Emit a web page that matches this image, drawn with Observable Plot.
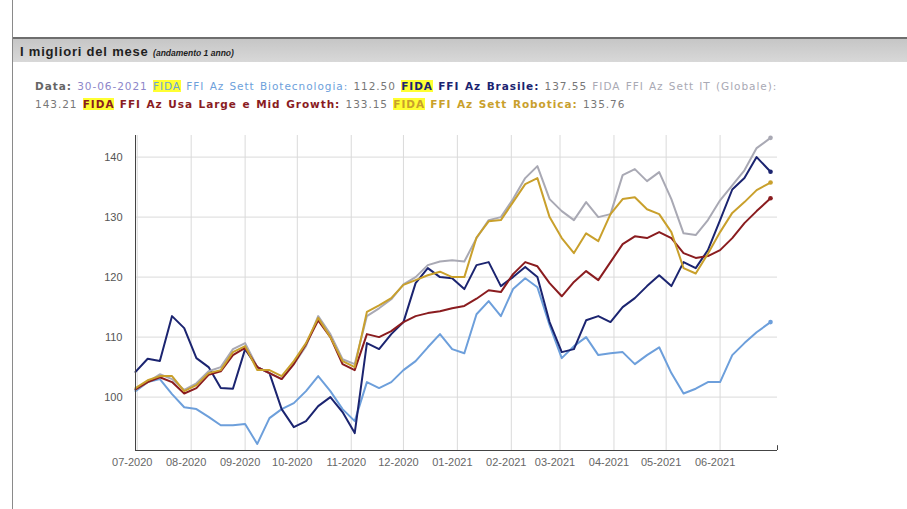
<!DOCTYPE html>
<html>
<head>
<meta charset="utf-8">
<script src="https://cdn.jsdelivr.net/npm/d3@7"></script>
<script src="https://cdn.jsdelivr.net/npm/@observablehq/plot@0.6"></script>
<style>
  html, body { margin: 0; padding: 0; background: #fff; }
  #page { position: relative; width: 907px; height: 509px; overflow: hidden; font-family: "Liberation Sans", Arial, sans-serif; }
  .vline { position: absolute; left: 12px; top: 0; width: 1px; height: 509px; background: #8a8a8a; }
  .hdr { position: absolute; left: 13px; top: 37px; right: 0; height: 25px; border-top: 2px solid #6e6e6e;
         background: linear-gradient(#c6c6c6, #d8d8d8); box-sizing: border-box; padding-left: 7px; line-height: 23px; color: #1e1e1e; }
  .hdr b { font-size: 13px; letter-spacing: 0.8px; }
  .hdr i { font-size: 8.5px; font-weight: bold; }
  .info { position: absolute; left: 35px; top: 77px; font-family: "DejaVu Sans", Verdana, sans-serif; font-size: 10.5px; letter-spacing: 0.95px; word-spacing: 1px; line-height: 18px; color: #777; white-space: nowrap; }
  .hl { background: #ffff33; }
  #chart { position: absolute; left: 0; top: 125px; }
</style>
</head>
<body>
<div id="page">
  <div class="vline"></div>
  <div class="hdr"><b>I migliori del mese</b> <i>(andamento 1 anno)</i></div>
  <div class="info" id="info"></div>
  <div id="chart"></div>
</div>
<script>
// ---- data ----
const dates = ["2020-06-30","2020-07-07","2020-07-14","2020-07-21","2020-07-28","2020-08-04","2020-08-11","2020-08-18","2020-08-25",
  "2020-09-01","2020-09-08","2020-09-15","2020-09-22","2020-09-29","2020-10-06","2020-10-13","2020-10-20","2020-10-27",
  "2020-11-03","2020-11-10","2020-11-17","2020-11-24","2020-12-01","2020-12-08","2020-12-15","2020-12-22","2020-12-29",
  "2021-01-05","2021-01-12","2021-01-19","2021-01-26","2021-02-02","2021-02-09","2021-02-16","2021-02-23",
  "2021-03-02","2021-03-09","2021-03-16","2021-03-23","2021-03-30","2021-04-06","2021-04-13","2021-04-20","2021-04-27",
  "2021-05-04","2021-05-11","2021-05-18","2021-05-25","2021-06-01","2021-06-08","2021-06-15","2021-06-22","2021-06-30"];

const biotech = [101,102.5,103,100.5,98.3,98,96.7,95.3,95.3,95.5,92.2,96.5,98,99,101,103.5,101,98,96,102.5,101.5,102.5,104.5,106,108.3,110.5,108,107.3,113.8,116,113.5,118,119.8,118.3,112,106.5,108.5,110,107,107.3,107.5,105.5,107,108.3,104,100.6,101.4,102.5,102.5,107,109,110.8,112.5];
const brasile = [104.2,106.4,106,113.5,111.5,106.5,105,101.5,101.4,108,105,104,98,95,96,98.5,100,97.5,94,109,108,110.5,112.5,119,121.5,120,119.8,118,122,122.5,118.5,120,121.7,120,112.5,107.5,108,112.8,113.5,112.5,115,116.5,118.5,120.3,118.5,122.5,121.5,124.5,129.5,134.6,136.5,140,137.55];
const itGlobale = [101.2,102.5,103.8,103,101.2,102.3,104.3,105,108,109,105,104,103,105.5,108.5,113.5,110.5,106.3,105.5,113.5,114.8,116.3,118.8,120,122,122.6,122.8,122.6,126.5,129.5,130,133,136.5,138.5,133,131,129.5,132.5,130,130.5,137,138,136,137.5,133,127.3,127,129.5,132.8,135.3,137.8,141.5,143.21];
const usaGrowth = [101.3,102.5,103.3,102.5,100.6,101.5,103.7,104.3,107,108.2,105,104,103,105.5,108.8,112.8,110,105.5,104.5,110.5,110,111,112.5,113.5,114,114.3,114.8,115.2,116.4,117.8,117.5,120.5,122.5,121.8,119,116.8,119.2,121,119.5,122.5,125.5,126.8,126.5,127.5,126.5,124,123.2,123.5,124.5,126.5,129,131,133.15];
const robotica = [101.5,102.8,103.5,103.5,101,102,104,104.5,107.5,108.5,104.5,104.5,103.5,106,109,113.2,110,106,105,114.2,115.3,116.5,118.7,119.5,120.3,120.9,120,120,126.6,129.3,129.5,132.5,135.5,136.5,130,126.5,124,127.3,126,130.5,133,133.3,131.3,130.5,127.5,121.5,120.6,123.9,127.5,130.7,132.5,134.5,135.76];

const seriesNames = ["FIDA FFI Az Sett Biotecnologia","FIDA FFI Az Brasile","FIDA FFI Az Sett IT (Globale)","FIDA FFI Az Usa Large e Mid Growth","FIDA FFI Az Sett Robotica"];
const seriesColors = ["#6d9fdb","#1b2470","#a9a9b4","#8a1c1f","#c9a02c"];
const seriesBold = [false, true, false, true, true];
const seriesHighlight = [true, true, false, true, true];
const lastLabels = ["112.50","137.55","143.21","133.15","135.76"];
const dateLabel = "30-06-2021";
const monthTicks = ["2020-07-01","2020-08-01","2020-09-01","2020-10-01","2020-11-01","2020-12-01",
  "2021-01-01","2021-02-01","2021-03-01","2021-04-01","2021-05-01","2021-06-01"];
const yTicks = [100,110,120,130,140];
const xDomain = ["2020-06-30","2021-07-04"];
const yDomain = [91.1, 143.6];

// ---- info text ----
const info = document.getElementById("info");
let html = `<b style="color:#666">Data:</b> <span style="color:#8d86c9">${dateLabel}</span>`;
seriesNames.forEach((n, i) => {
  const rest = n.replace(/^FIDA /, "");
  const c = seriesColors[i];
  const w = seriesBold[i] ? "bold" : "normal";
  const fida = seriesHighlight[i] ? `<span class="hl" style="color:${c};font-weight:${w}">FIDA</span>` : `<span style="color:${c}">FIDA</span>`;
  html += ` ${fida} <span style="color:${c};font-weight:${w}">${rest}:</span>`;
  if (i === 2) html += `<br>`;
  html += ` <span style="color:#777">${lastLabels[i]}</span>`;
});
info.innerHTML = html;

// ---- chart ----
const parse = d3.utcParse("%Y-%m-%d");
const allValues = [biotech, brasile, itGlobale, usaGrowth, robotica];
const rows = allValues.flatMap((vals, s) => dates.map((d, i) => ({date: parse(d), value: vals[i], name: seriesNames[s]})));
const lastRows = allValues.map((vals, s) => ({date: parse(dates[dates.length - 1]), value: vals[vals.length - 1], name: seriesNames[s]}));
const xt = monthTicks.map(parse);
const x0 = parse(xDomain[0]), x1 = parse(xDomain[1]);

const chart = Plot.plot({
  width: 907, height: 360,
  marginLeft: 135, marginRight: 130, marginTop: 10, marginBottom: 35,
  x: {type: "utc", domain: [x0, x1]},
  y: {domain: yDomain},
  color: {domain: seriesNames, range: seriesColors},
  style: {fontFamily: "'Liberation Sans', Arial, sans-serif", fontSize: "11px", color: "#555", background: "transparent", overflow: "visible"},
  marks: [
    Plot.gridX(xt, {stroke: "#dadada", strokeOpacity: 1}),
    Plot.gridY(yTicks, {stroke: "#dadada", strokeOpacity: 1}),
    Plot.axisY(yTicks, {tickSize: 0, tickPadding: 13, label: null, fill: "#555"}),
    Plot.axisX(xt, {tickSize: 0, tickPadding: 8, label: null, dx: -5, fill: "#666", tickFormat: d3.utcFormat("%m-%Y")}),
    Plot.lineY(rows, {x: "date", y: "value", z: "name", stroke: "name", strokeWidth: 2, curve: "linear"}),
    Plot.dot(lastRows, {x: "date", y: "value", fill: "name", r: 2.3}),
    Plot.ruleX([x0], {y1: yDomain[0], y2: yDomain[1], stroke: "#444"}),
    Plot.ruleY([yDomain[0]], {stroke: "#444"}),
    Plot.ruleX([x1], {y1: yDomain[0], y2: yDomain[0] + 0.8, stroke: "#444"})
  ]
});
document.getElementById("chart").appendChild(chart);
</script>
</body>
</html>
